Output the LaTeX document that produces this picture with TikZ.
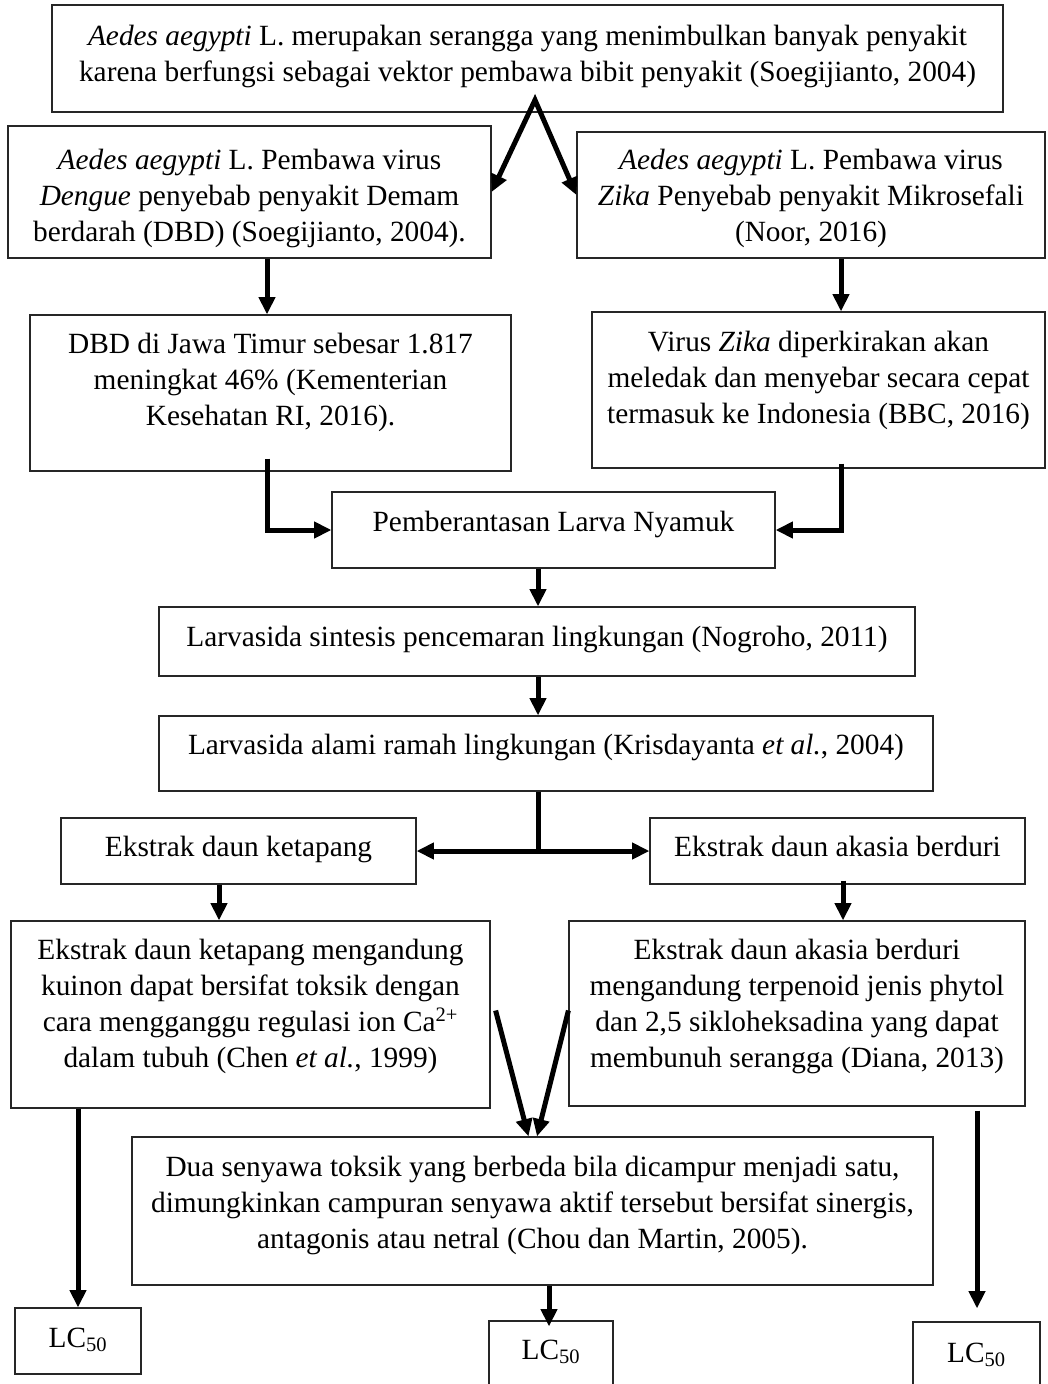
\documentclass[tikz,border=0pt]{standalone}
\usepackage{fontspec}
\setmainfont{Liberation Serif}
\usetikzlibrary{arrows.meta,calc,positioning}

\begin{document}
\begin{tikzpicture}[
x=0.75pt, y=-0.75pt,
MyBox/.style 2 args={draw=black!85,line width=0.9pt,inner sep=0pt,
  minimum width=#1*0.75pt,minimum height=#2*0.75pt},
MyText/.style={align=center,inner sep=0pt,font=\fontsize{22}{27}\selectfont},
MyArrow/.style={-{Triangle[length=13pt, width=12pt]},line width=3.75pt},
MyArrowBoth/.style={{Triangle[length=13pt, width=12pt]}-{Triangle[length=13pt, width=12pt]},line width=3.75pt,line join=miter},
MyLine/.style={line width=3.75pt}
]
\path[use as bounding box,clip] (0,0) rectangle (1047,1384);

% columns of the vertical arrows
\coordinate (colDbd) at (267,0);
\coordinate (colZika) at (841,0);
\coordinate (colMid) at (538,0);
\coordinate (colKet) at (219,0);
\coordinate (colAka) at (843,0);
\coordinate (colLeft) at (78,0);
\coordinate (colDua) at (549,0);
\coordinate (colRight) at (977,0);

% boxes
\node[MyBox={951}{107}] (top) at (527.5,58.5) {};
\node[MyBox={483}{132}] (dengue) at (249.5,192) {};
\node[MyBox={468}{126}] (zika) at (811,195) {};
\node[MyBox={481}{156}] (dbd) at (270.5,393) {};
\node[MyBox={453}{156}] (zikavirus) at (818.5,390) {};
\node[MyBox={443}{76}] (pemb) at (553.5,530) {};
\node[MyBox={756}{69}] (sintesis) at (537,641.5) {};
\node[MyBox={774}{75}] (alami) at (546,753.5) {};
\node[MyBox={355}{66}] (ketapang) at (238.5,851) {};
\node[MyBox={375}{66}] (akasia) at (837.5,851) {};
\node[MyBox={479}{187}] (ketapangKu) at (250.5,1014.5) {};
\node[MyBox={456}{185}] (akasiaTe) at (797,1013.5) {};
\node[MyBox={801}{148}] (dua) at (532.5,1211) {};
\node[MyBox={126}{66}] (lcA) at (78,1341) {};
\node[MyBox={124}{68}] (lcB) at (551,1355) {};
\node[MyBox={127}{68}] (lcC) at (976.5,1356) {};

% texts
\node[MyText] (topT) at (527.5,56) {\textit{Aedes aegypti} L. merupakan serangga yang menimbulkan banyak penyakit\\karena berfungsi sebagai vektor pembawa bibit penyakit (Soegijianto, 2004)};
\node[MyText] (dengueT) at (249.5,198) {\textit{Aedes aegypti} L. Pembawa virus\\\textit{Dengue} penyebab penyakit Demam\\berdarah (DBD) (Soegijianto, 2004).};
\node[MyText] (zikaT) at (811,198) {\textit{Aedes aegypti} L. Pembawa virus\\\textit{Zika} Penyebab penyakit Mikrosefali\\(Noor, 2016)};
\node[MyText] (dbdT) at (270.5,382) {DBD di Jawa Timur sebesar 1.817\\meningkat 46\% (Kementerian\\Kesehatan RI, 2016).};
\node[MyText] (zikavirusT) at (818.5,380.5) {Virus \textit{Zika} diperkirakan akan\\meledak dan menyebar secara cepat\\termasuk ke Indonesia (BBC, 2016)};
\node[MyText] (pembT) at (553.5,524) {\strut Pemberantasan Larva Nyamuk};
\node[MyText] (sintesisT) at (537,639) {\strut Larvasida sintesis pencemaran lingkungan (Nogroho, 2011)};
\node[MyText] (alamiT) at (546,747) {\strut Larvasida alami ramah lingkungan (Krisdayanta \textit{et al.}, 2004)};
\node[MyText] (ketapangT) at (238.5,849) {\strut Ekstrak daun ketapang};
\node[MyText] (akasiaT) at (837.5,849) {\strut Ekstrak daun akasia berduri};
\node[MyText] (ketapangKuT) at (250.5,1006) {Ekstrak daun ketapang mengandung\\kuinon dapat bersifat toksik dengan\\cara mengganggu regulasi ion Ca\textsuperscript{2+}\\dalam tubuh (Chen \textit{et al.}, 1999)};
\node[MyText] (akasiaTeT) at (797,1006) {Ekstrak daun akasia berduri\\mengandung terpenoid jenis phytol\\dan 2,5 sikloheksadina yang dapat\\membunuh serangga (Diana, 2013)};
\node[MyText] (duaT) at (532.5,1205) {Dua senyawa toksik yang berbeda bila dicampur menjadi satu,\\dimungkinkan campuran senyawa aktif tersebut bersifat sinergis,\\antagonis atau netral (Chou dan Martin, 2005).};
\node[MyText] (lcAT) at (78,1340) {\strut LC\textsubscript{50}};
\node[MyText] (lcBT) at (551,1352) {\strut LC\textsubscript{50}};
\node[MyText] (lcCT) at (976.5,1355) {\strut LC\textsubscript{50}};

% arrows
\coordinate (apex) at (535,100);
\draw[MyArrowBoth] (dengue.east) -- (apex) -- (zika.west);

\draw[MyArrow] (dengue.south -| colDbd) -- (dbd.north -| colDbd);
\draw[MyArrow] (zika.south -| colZika) -- (zikavirus.north -| colZika);

\draw[MyArrow] ($(dbd.south -| colDbd)+(0,-13)$) |- (pemb.west);
\draw[MyArrow] ($(zikavirus.south -| colZika)+(0,-5)$) |- (pemb.east);

\draw[MyArrow] (pemb.south -| colMid) -- (sintesis.north -| colMid);
\draw[MyArrow] (sintesis.south -| colMid) -- (alami.north -| colMid);

\draw[MyLine] (alami.south -| colMid) -- (colMid |- ketapang.east);
\draw[MyArrowBoth] (ketapang.east) -- (akasia.west);

\draw[MyArrow] (ketapang.south -| colKet) -- (ketapangKu.north -| colKet);
\draw[MyArrow] ($(akasia.south -| colAka)+(0,-4)$) -- (akasiaTe.north -| colAka);

\draw[MyArrow] ($(ketapangKu.east)+(5,-4)$) -- ($(dua.north)+(-4,0)$);
\draw[MyArrow] ($(akasiaTe.west)+(0,-3)$) -- ($(dua.north)+(4.5,0)$);

\draw[MyArrow] (ketapangKu.south -| colLeft) -- (lcA.north -| colLeft);
\draw[MyArrow] (dua.south -| colDua) -- ($(lcB.north -| colDua)+(0,6)$);
\draw[MyArrow] ($(akasiaTe.south -| colRight)+(0,4)$) -- ($(lcC.north -| colRight)+(0,-13)$);

\end{tikzpicture}
\end{document}
